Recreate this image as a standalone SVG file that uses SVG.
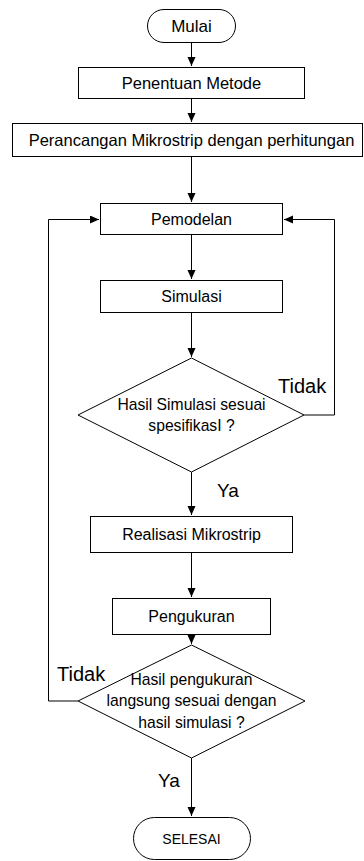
<svg xmlns="http://www.w3.org/2000/svg" width="364" height="861" viewBox="0 0 364 861">
<style>
.s{fill:#fff;stroke:#000;stroke-width:1}
.t{font-family:"Liberation Sans",Arial,sans-serif;font-size:16px;fill:#000;text-anchor:middle}
.d{font-size:15.7px}
.l{font-family:"Liberation Sans",Arial,sans-serif;font-size:20px;fill:#000}
.c{fill:none;stroke:#000;stroke-width:1}
</style>
<defs>
<marker id="ah" markerWidth="10" markerHeight="10" refX="9" refY="4" orient="auto" markerUnits="userSpaceOnUse"><path d="M0,0 L9,4 L0,8 z" fill="#000"/></marker>
</defs>
<rect width="364" height="861" fill="#fff"/>
<g id="connectors">
<path class="c" d="M191.5,43 V66" marker-end="url(#ah)"/>
<path class="c" d="M191.5,99 V122" marker-end="url(#ah)"/>
<path class="c" d="M191.5,157 V202" marker-end="url(#ah)"/>
<path class="c" d="M191.5,235 V279" marker-end="url(#ah)"/>
<path class="c" d="M191.5,313 V357" marker-end="url(#ah)"/>
<path class="c" d="M191.5,472 V515" marker-end="url(#ah)"/>
<path class="c" d="M191.5,553 V597" marker-end="url(#ah)"/>
<path class="c" d="M191.5,635 V644" marker-end="url(#ah)"/>
<path class="c" d="M191.5,758 V816" marker-end="url(#ah)"/>
<path class="c" d="M304,415 H334.5 V219.5 H284" marker-end="url(#ah)"/>
<path class="c" d="M78,701 H48.5 V219.5 H99" marker-end="url(#ah)"/>
<text class="l" x="278" y="393">Tidak</text>
<text class="l" x="217" y="497" style="font-size:19px">Ya</text>
<text class="l" x="57" y="681">Tidak</text>
<text class="l" x="158" y="787" style="font-size:19px">Ya</text>
</g>
<g id="mulai">
<rect class="s" x="147.5" y="9.5" width="88" height="33" rx="16.5"/>
<text class="t" x="191.5" y="32" style="font-size:17px">Mulai</text>
</g>
<g id="penentuan">
<rect class="s" x="78.5" y="67.5" width="226" height="31"/>
<text class="t" x="191.5" y="89" style="font-size:16.5px">Penentuan Metode</text>
</g>
<g id="perancangan">
<rect class="s" x="12.5" y="123.5" width="350" height="33"/>
<text class="t" x="191.5" y="146" style="font-size:16.5px">Perancangan Mikrostrip dengan perhitungan</text>
</g>
<g id="pemodelan">
<rect class="s" x="100.5" y="203.5" width="182" height="31"/>
<text class="t" x="191.5" y="225">Pemodelan</text>
</g>
<g id="simulasi">
<rect class="s" x="100.5" y="280.5" width="182" height="32"/>
<text class="t" x="191.5" y="302">Simulasi</text>
</g>
<g id="cek-simulasi">
<path class="s" d="M191.5,358 L304,415 L191.5,472 L78,415 Z"/>
<text class="t d" x="191.5" y="410">Hasil Simulasi sesuai</text>
<text class="t d" x="191.5" y="431">spesifikasI ?</text>
</g>
<g id="realisasi">
<rect class="s" x="90.5" y="516.5" width="202" height="36"/>
<text class="t" x="191.5" y="540">Realisasi Mikrostrip</text>
</g>
<g id="pengukuran">
<rect class="s" x="112.5" y="598.5" width="158" height="36"/>
<text class="t" x="191.5" y="622">Pengukuran</text>
</g>
<g id="cek-pengukuran">
<path class="s" d="M191.5,645 L305,701 L191.5,758 L78,701 Z"/>
<text class="t d" x="191.5" y="685">Hasil pengukuran</text>
<text class="t d" x="191.5" y="706">langsung sesuai dengan</text>
<text class="t d" x="191.5" y="728">hasil simulasi ?</text>
</g>
<g id="selesai">
<rect class="s" x="133.5" y="817.5" width="117" height="42" rx="21"/>
<text class="t" x="191.5" y="843.5" style="font-size:14px">SELESAI</text>
</g>
</svg>
